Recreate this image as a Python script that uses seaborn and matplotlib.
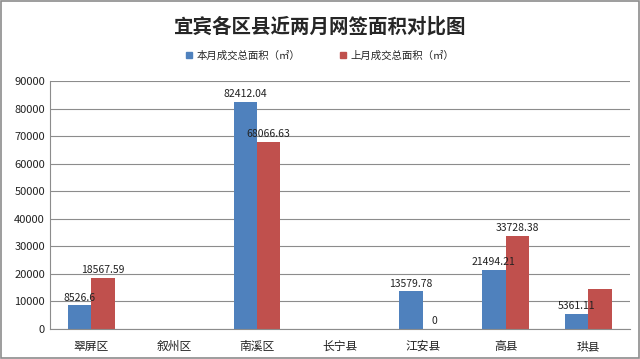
import numpy as np
import pandas as pd
import seaborn as sns
import matplotlib.pyplot as plt
from matplotlib.patches import Rectangle

# 数据（叙州区、长宁县无数据）
districts = ['翠屏区', '叙州区', '南溪区', '长宁县', '江安县', '高县', '珙县']
this_month = [8526.6, 0, 82412.04, 0, 13579.78, 21494.21, 5361.11]
last_month = [18567.59, 0, 68066.63, 0, 0, 33728.38, 14550]
this_month_labels = ['8526.6', '', '82412.04', '', '13579.78', '21494.21', '5361.11']
last_month_labels = ['18567.59', '', '68066.63', '', '0', '33728.38', '']
series = ['本月成交总面积（㎡）', '上月成交总面积（㎡）']

df = pd.DataFrame({
    '区县': districts * 2,
    '面积': this_month + last_month,
    '类别': [series[0]] * 7 + [series[1]] * 7,
})

sns.set_style('white')
plt.rcParams['font.family'] = ['Noto Sans CJK SC', 'DejaVu Sans']

fig = plt.figure(figsize=(6.4, 3.59), dpi=100)
ax = fig.add_axes([0.078, 0.084, 0.906, 0.69])

sns.barplot(data=df, x='区县', y='面积', hue='类别', palette=['#4F81BD', '#C0504D'],
            width=0.56, ax=ax, legend=False, saturation=1, linewidth=0)

ax.set_ylim(0, 90000)
ax.set_yticks(range(0, 90001, 10000))
ax.grid(axis='y', color='#8c8c8c', linewidth=0.8)
ax.set_axisbelow(True)
ax.set_xlabel('')
ax.set_ylabel('')
for s in ['top', 'right']:
    ax.spines[s].set_visible(False)
for s in ['left', 'bottom']:
    ax.spines[s].set_color('#8c8c8c')
ax.tick_params(axis='both', labelsize=8, length=0, colors='#222222')
ax.tick_params(axis='x', labelsize=8.5, pad=8)

# 数据标签
ax.bar_label(ax.containers[0], labels=this_month_labels, fontsize=7.5, padding=2, color='#222222')
ax.bar_label(ax.containers[1], labels=last_month_labels, fontsize=7.5, padding=2, color='#222222')

# 标题和图例
fig.text(0.5, 0.925, '宜宾各区县近两月网签面积对比图', ha='center', va='center',
         fontsize=14, fontweight='bold')
handles = [Rectangle((0, 0), 1, 1, color='#4F81BD'), Rectangle((0, 0), 1, 1, color='#C0504D')]
fig.legend(handles, series, loc='center', bbox_to_anchor=(0.5, 0.845), ncol=2, frameon=False,
           fontsize=7.5, handlelength=0.6, handleheight=0.6, columnspacing=3.8, handletextpad=0.4)

fig.patches.append(Rectangle((0.002, 0.003), 0.996, 0.994, transform=fig.transFigure,
                             fill=False, edgecolor='#8c8c8c', linewidth=1.2))

fig.savefig('out.png', dpi=100)
